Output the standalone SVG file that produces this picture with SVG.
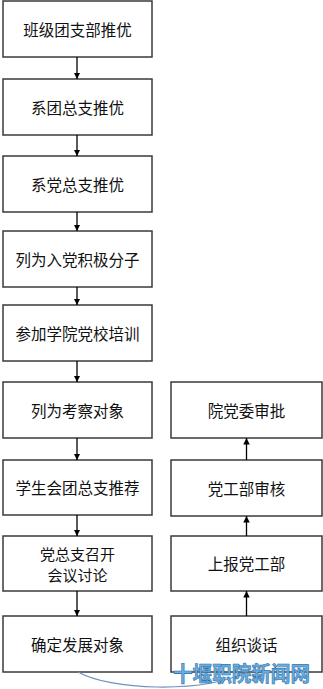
<svg xmlns="http://www.w3.org/2000/svg" width="323" height="689" viewBox="0 0 323 689">
<style>
.box{fill:#fff;stroke:#3a3a3a;stroke-width:1.5}
.t{font-family:"Noto Sans CJK SC","Noto Sans",sans-serif;font-size:15.5px;fill:#111;text-anchor:middle;dominant-baseline:central}
.t2{font-size:15px}
.c{stroke:#000;stroke-width:1.3;fill:none;marker-end:url(#ah)}
.wm{font-family:"Noto Sans CJK SC",sans-serif;font-size:21px;font-weight:bold;fill:#6aaee0;stroke:#2f6fa8;stroke-width:0.6}
</style>
<defs>
<marker id="ah" viewBox="0 0 10 10" refX="10" refY="5" markerWidth="6.5" markerHeight="8" markerUnits="userSpaceOnUse" orient="auto">
<path d="M0,0 L10,5 L0,10 z" fill="#000"/>
</marker>
</defs>
<rect width="323" height="689" fill="#fff"/>
<g id="n1"><rect class="box" x="3" y="1" width="149" height="56"/><text class="t" x="77.5" y="29">班级团支部推优</text></g>
<g id="n2"><rect class="box" x="3" y="79" width="149" height="56"/><text class="t" x="77.5" y="107">系团总支推优</text></g>
<g id="n3"><rect class="box" x="3" y="156" width="149" height="56"/><text class="t" x="77.5" y="184">系党总支推优</text></g>
<g id="n4"><rect class="box" x="3" y="231" width="149" height="56"/><text class="t" x="77.5" y="259">列为入党积极分子</text></g>
<g id="n5"><rect class="box" x="3" y="305" width="149" height="56"/><text class="t" x="77.5" y="333">参加学院党校培训</text></g>
<g id="n6"><rect class="box" x="3" y="382" width="149" height="56"/><text class="t" x="77.5" y="410">列为考察对象</text></g>
<g id="n7"><rect class="box" x="3" y="460" width="149" height="55"/><text class="t" x="77.5" y="487">学生会团总支推荐</text></g>
<g id="n8"><rect class="box" x="3" y="536" width="149" height="55"/><text class="t t2" x="77.5" y="553">党总支召开</text><text class="t t2" x="77.5" y="574">会议讨论</text></g>
<g id="n9"><rect class="box" x="3" y="616" width="149" height="56"/><text class="t" x="77.5" y="644">确定发展对象</text></g>
<g id="r1"><rect class="box" x="171" y="382" width="151" height="56"/><text class="t" x="246.5" y="410">院党委审批</text></g>
<g id="r2"><rect class="box" x="171" y="460" width="151" height="56"/><text class="t" x="246.5" y="488">党工部审核</text></g>
<g id="r3"><rect class="box" x="171" y="536" width="151" height="55"/><text class="t" x="246.5" y="563">上报党工部</text></g>
<g id="r4"><rect class="box" x="171" y="616" width="151" height="56"/><text class="t" x="246.5" y="644">组织谈话</text></g>
<g id="connectors">
<line class="c" x1="77" y1="57" x2="77" y2="79"/>
<line class="c" x1="77" y1="135" x2="77" y2="156"/>
<line class="c" x1="77" y1="212" x2="77" y2="231"/>
<line class="c" x1="77" y1="287" x2="77" y2="305"/>
<line class="c" x1="77" y1="361" x2="77" y2="382"/>
<line class="c" x1="77" y1="438" x2="77" y2="460"/>
<line class="c" x1="77" y1="515" x2="77" y2="536"/>
<line class="c" x1="77" y1="591" x2="77" y2="616"/>
<line class="c" x1="246.5" y1="616" x2="246.5" y2="591"/>
<line class="c" x1="246.5" y1="536" x2="246.5" y2="516"/>
<line class="c" x1="246.5" y1="460" x2="246.5" y2="438"/>
<path d="M78,672 C110,690 200,694 247,672" fill="none" stroke="#6f93c0" stroke-width="1.2"/>
</g>
<text class="wm" x="173" y="681" textLength="137" lengthAdjust="spacingAndGlyphs">十堰职院新闻网</text>
</svg>
